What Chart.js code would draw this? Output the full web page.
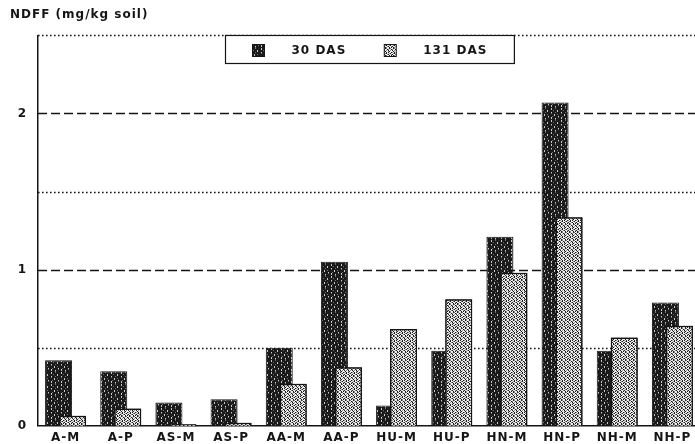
<!DOCTYPE html>
<html>
<head>
<meta charset="utf-8">
<script src="https://cdn.jsdelivr.net/npm/chart.js@4/dist/chart.umd.min.js"></script>
<style>
  html, body { margin: 0; padding: 0; background: #fff; overflow: hidden; }
  #wrap { width: 700px; height: 444px; }
</style>
</head>
<body>
<div id="wrap"><canvas id="c" width="700" height="444"></canvas></div>
<script>
// Nitrogen derived from fertiliser, per treatment, at two sampling dates
const categories = ['A-M', 'A-P', 'AS-M', 'AS-P', 'AA-M', 'AA-P', 'HU-M', 'HU-P', 'HN-M', 'HN-P', 'NH-M', 'NH-P'];
const das30  = [0.42, 0.35, 0.15, 0.17, 0.50, 1.05, 0.13, 0.48, 1.21, 2.07, 0.48, 0.79];
const das131 = [0.065, 0.11, 0.01, 0.02, 0.27, 0.375, 0.62, 0.81, 0.98, 1.335, 0.565, 0.64];
const seriesNames = ['30 DAS', '131 DAS'];
const yAxisTitle = 'NDFF (mg/kg soil)';
const yTickValues = [0, 1, 2];
const dashedLevels = [1, 2];
const dottedLevels = [0.5, 1.5, 2.5];
const yMax = 2.5;

const INK = '#151515';
const FONT = { family: 'DejaVu Sans', size: 12, weight: 'bold' };
const LETTER_SPACING = '1px';

const canvas = document.getElementById('c');
const ctx = canvas.getContext('2d');

// Stipple textures for the two bar types
function makePattern(rows, palette) {
  const h = rows.length, w = rows[0].length;
  const tile = document.createElement('canvas');
  tile.width = w; tile.height = h;
  const g = tile.getContext('2d');
  for (let y = 0; y < h; y++) {
    for (let x = 0; x < w; x++) {
      g.fillStyle = palette[rows[y][x]];
      g.fillRect(x, y, 1, 1);
    }
  }
  return ctx.createPattern(tile, 'repeat');
}

const darkFill = makePattern([
  '#.###+####',
  '#.########',
  '###+###.##',
  '#######.##',
  '#.###+####',
  '#+########',
  '####.##+##',
  '####.#####',
  '##+#####.#',
  '#.######+#',
  '#.###.####',
  '#####+####'
], { '#': '#1a1a1a', '.': '#c8c8c8', '+': '#707070' });

const lightFill = makePattern([
  '.#+..#+.',
  '+..#+..#',
  '#.+.#.+.',
  '.#..+#..',
  '+.#.#..#',
  '.+#..+#.',
  '#..+#..+',
  '.#+..#.#'
], { '#': '#1a1a1a', '.': '#efefef', '+': '#8a8a8a' });

// Wide, typewriter-like spacing for all chart text
const spacing = {
  id: 'spacing',
  beforeLayout(chart) { chart.ctx.letterSpacing = LETTER_SPACING; },
  beforeDraw(chart) { chart.ctx.letterSpacing = LETTER_SPACING; }
};

// Horizontal reference lines: dashed at whole units, dotted at halves
const levels = {
  id: 'levels',
  beforeDatasetsDraw(chart) {
    const { ctx, chartArea: a, scales: { y } } = chart;
    ctx.save();
    ctx.strokeStyle = INK;
    ctx.lineWidth = 1.3;
    ctx.setLineDash([9, 4]);
    dashedLevels.forEach(v => {
      const py = Math.round(y.getPixelForValue(v)) + 0.5;
      ctx.beginPath(); ctx.moveTo(a.left, py); ctx.lineTo(a.right, py); ctx.stroke();
    });
    ctx.lineWidth = 1.4;
    ctx.setLineDash([1.6, 2.4]);
    dottedLevels.forEach(v => {
      const py = Math.round(y.getPixelForValue(v)) + 0.5;
      ctx.beginPath(); ctx.moveTo(a.left, py); ctx.lineTo(a.right, py); ctx.stroke();
    });
    ctx.restore();
  }
};

// The later sampling date overlaps the earlier one, so its bars go on top
const laterOnTop = {
  id: 'laterOnTop',
  afterDatasetsDraw(chart) {
    const meta = chart.getDatasetMeta(1);
    if (meta && !meta.hidden) meta.controller.draw();
  }
};

// Boxed legend sitting on the top edge of the plot
const boxLegend = {
  id: 'boxLegend',
  afterDraw(chart) {
    const { ctx, chartArea: a } = chart;
    const sets = chart.data.datasets;
    const pad = 27, sw = 12, gap = 27, itemGap = 38, h = 28;
    ctx.save();
    ctx.letterSpacing = LETTER_SPACING;
    ctx.font = `bold ${FONT.size}px "${FONT.family}"`;
    const widths = sets.map(d => ctx.measureText(d.label).width);
    let w = pad * 2;
    widths.forEach((tw, i) => { w += sw + gap + tw + (i ? itemGap : 0); });
    const left = Math.round((a.left + a.right) / 2 - w / 2) + 0.5;
    const top = Math.round(a.top) + 0.5;
    ctx.fillStyle = '#fff';
    ctx.fillRect(left, top, w, h);
    ctx.strokeStyle = INK;
    ctx.lineWidth = 1.2;
    ctx.strokeRect(left, top, w, h);
    let x = left + pad;
    const cy = top + h / 2 + 1;
    sets.forEach((d, i) => {
      if (i) x += itemGap;
      ctx.fillStyle = d.backgroundColor;
      ctx.fillRect(x, cy - 6, sw, 12);
      ctx.strokeStyle = INK;
      ctx.lineWidth = 1;
      ctx.strokeRect(x, cy - 6, sw, 12);
      x += sw + gap;
      ctx.fillStyle = INK;
      ctx.textBaseline = 'middle';
      ctx.textAlign = 'left';
      ctx.fillText(d.label, x, cy);
      x += widths[i];
    });
    ctx.restore();
  }
};

new Chart(ctx, {
  type: 'bar',
  data: {
    labels: categories,
    datasets: [
      {
        label: seriesNames[0],
        data: das30,
        backgroundColor: darkFill,
        borderColor: INK,
        borderWidth: 1,
        categoryPercentage: 0.5075,
        barPercentage: 1.93
      },
      {
        label: seriesNames[1],
        data: das131,
        backgroundColor: lightFill,
        borderColor: INK,
        borderWidth: 1.5,
        categoryPercentage: 0.5075,
        barPercentage: 1.93
      }
    ]
  },
  options: {
    responsive: false,
    animation: false,
    devicePixelRatio: 1,
    layout: { padding: { left: 10, right: 0, top: 0, bottom: 0 } },
    plugins: {
      legend: { display: false },
      tooltip: { enabled: false },
      title: {
        display: true,
        text: yAxisTitle,
        align: 'start',
        color: INK,
        font: FONT,
        padding: { top: 8, bottom: 13 }
      }
    },
    scales: {
      x: {
        afterFit(scale) { scale.height = 18; },
        grid: { display: false, drawTicks: false },
        border: { display: true, color: INK, width: 1.5 },
        ticks: { color: INK, font: FONT, padding: 5, maxRotation: 0, autoSkip: false }
      },
      y: {
        min: 0,
        max: yMax,
        afterBuildTicks(scale) { scale.ticks = yTickValues.map(v => ({ value: v })); },
        afterFit(scale) { scale.width = 28; },
        grid: { display: false, drawTicks: false },
        border: { display: true, color: INK, width: 1.5 },
        ticks: { color: INK, font: FONT, padding: 11, callback: v => String(v) }
      }
    }
  },
  plugins: [spacing, levels, laterOnTop, boxLegend]
});
</script>
</body>
</html>
